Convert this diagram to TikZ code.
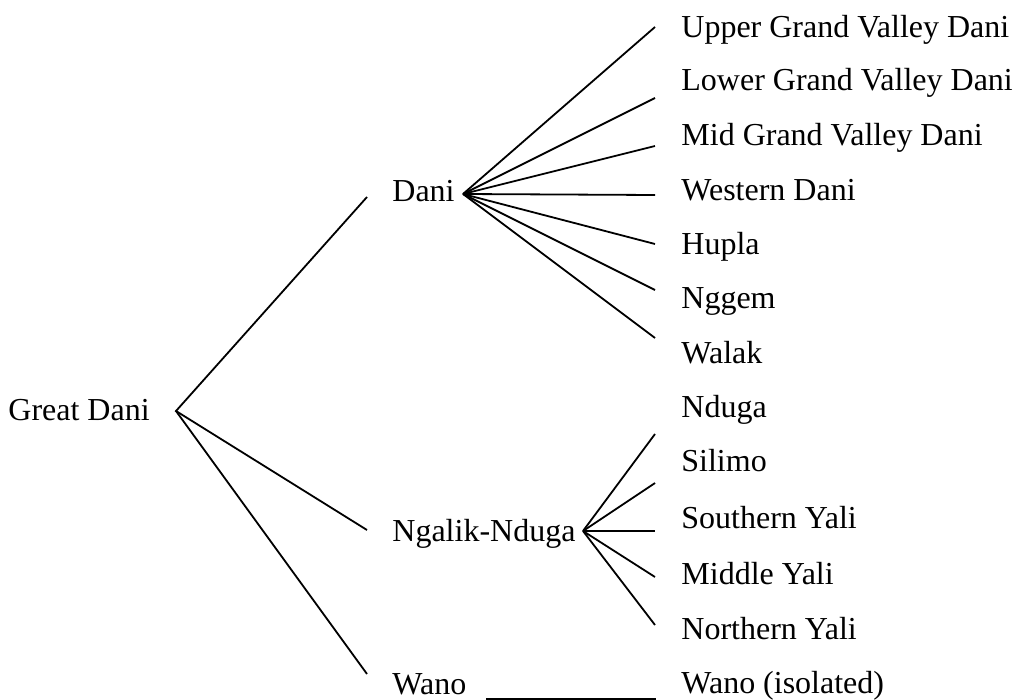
\documentclass[tikz,border=0pt]{standalone}
\usepackage{fontspec}
\setmainfont{Liberation Serif}
\newfontfamily\tnr{Liberation Serif}
\begin{document}
\begin{tikzpicture}[x=0.5pt,y=-0.5pt,
  lbl/.style={anchor=base west,inner sep=0pt,font=\tnr\fontsize{16}{19}\selectfont},
  edge/.style={line width=0.9pt,black}]
\useasboundingbox (0,0) rectangle (1016,700);
% labels
\node[lbl] (gd) at (8,420) {Great Dani};
\node[lbl] (dani) at (392,202) {Dani};
\node[lbl] (ngal) at (392,541) {Ngalik-Nduga};
\node[lbl] (wano) at (392,694) {Wano};
\node[lbl] (c1) at (681,38) {Upper Grand Valley Dani};
\node[lbl] (c2) at (681,91) {Lower Grand Valley Dani};
\node[lbl] (c3) at (681,146) {Mid Grand Valley Dani};
\node[lbl] (c4) at (681,200) {Western Dani};
\node[lbl] (c5) at (681,254) {Hupla};
\node[lbl] (c6) at (681,308) {Nggem};
\node[lbl] (c7) at (681,363) {Walak};
\node[lbl] (c8) at (681,417) {Nduga};
\node[lbl] (c9) at (681,471) {Silimo};
\node[lbl] (c10) at (681,528) {Southern Yali};
\node[lbl] (c11) at (681,584) {Middle Yali};
\node[lbl] (c12) at (681,639) {Northern Yali};
\node[lbl] (c13) at (681,693) {Wano (isolated)};
% fork points and ends
\coordinate (fgd) at (176,411);
\coordinate (edani) at (367,197);
\coordinate (engal) at (367,530);
\coordinate (ewano) at (367,674);
\coordinate (fdani) at (463,194);
\coordinate (d1) at (655,27);
\coordinate (d2) at (655,98);
\coordinate (d3) at (655,146);
\coordinate (d4) at (655,195);
\coordinate (d5) at (655,244);
\coordinate (d6) at (655,290);
\coordinate (d7) at (655,338);
\coordinate (fngal) at (583,531);
\coordinate (n1) at (655,434);
\coordinate (n2) at (655,483);
\coordinate (n3) at (655,531);
\coordinate (n4) at (655,577);
\coordinate (n5) at (655,625);
\coordinate (w1) at (486,699);
\coordinate (w2) at (656,699);
% connectors
\draw[edge] (edani) -- (fgd) -- (engal);
\draw[edge] (fgd) -- (ewano);
\foreach \e in {d1,d2,d3,d4,d5,d6,d7} \draw[edge] (fdani) -- (\e);
\foreach \e in {n1,n2,n3,n4,n5} \draw[edge] (fngal) -- (\e);
\draw[edge] (w1) -- (w2);
\end{tikzpicture}
\end{document}
